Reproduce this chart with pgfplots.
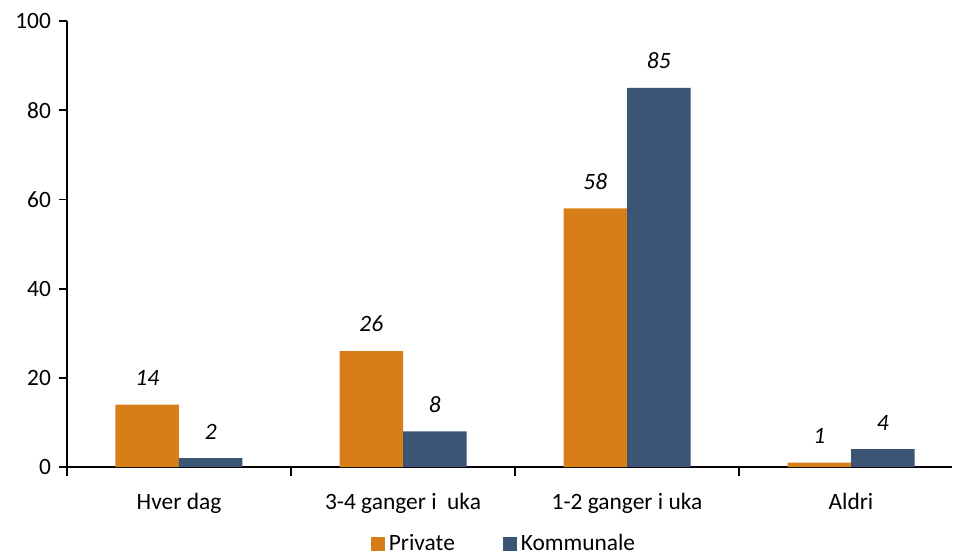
\documentclass[border=0pt]{standalone}
\usepackage{fontspec}
\setmainfont{Carlito}
\usepackage{pgfplots}
\pgfplotsset{compat=1.18}
\definecolor{cPriv}{RGB}{216,126,24}
\definecolor{cKom}{RGB}{58,86,116}
\begin{document}
\fontsize{11.5pt}{13pt}\selectfont
\begin{tikzpicture}
\useasboundingbox (-33.5pt,-46pt) rectangle (443pt,233.5pt);
\begin{axis}[
  scale only axis,
  width=442.4pt, height=223pt,
  ymin=0, ymax=100,
  ytick={0,20,40,60,80,100},
  xmin=-0.5, xmax=3.45,
  xtick={0,1,2,3},
  xticklabels={Hver dag, 3-4 ganger i\ \ uka, 1-2 ganger i uka, Aldri},
  minor xtick={-0.5,0.5,1.5,2.5},
  major x tick style={draw=none},
  minor tick length=4.5pt,
  major tick length=4pt,
  tick align=outside,
  axis x line*=bottom,
  axis y line*=left,
  axis line style={black, line width=0.9pt},
  every tick/.style={black, line width=0.9pt},
  /pgf/number format/assume math mode=true,
  tick label style={font=\fontsize{11.7pt}{13pt}\selectfont},
  xticklabel style={yshift=-5pt},
  ybar=0pt,
  bar width=31.75pt,
  nodes near coords,
  every node near coord/.append style={font=\fontsize{11.7pt}{13pt}\selectfont\itshape, yshift=5.5pt, black},
  legend style={at={(0.495,-0.132)}, anchor=north, draw=none, legend columns=2,
    /tikz/every even column/.append style={column sep=22pt},
    font=\fontsize{11.7pt}{13pt}\selectfont},
  legend image code/.code={\fill[#1] (0pt,-3.5pt) rectangle (7pt,3.5pt);},
]
\addplot[fill=cPriv, draw=none] coordinates {(0,14) (1,26) (2,58) (3,1)};
\addplot[fill=cKom, draw=none] coordinates {(0,2) (1,8) (2,85) (3,4)};
\legend{Private, Kommunale}
\end{axis}
\end{tikzpicture}
\end{document}
